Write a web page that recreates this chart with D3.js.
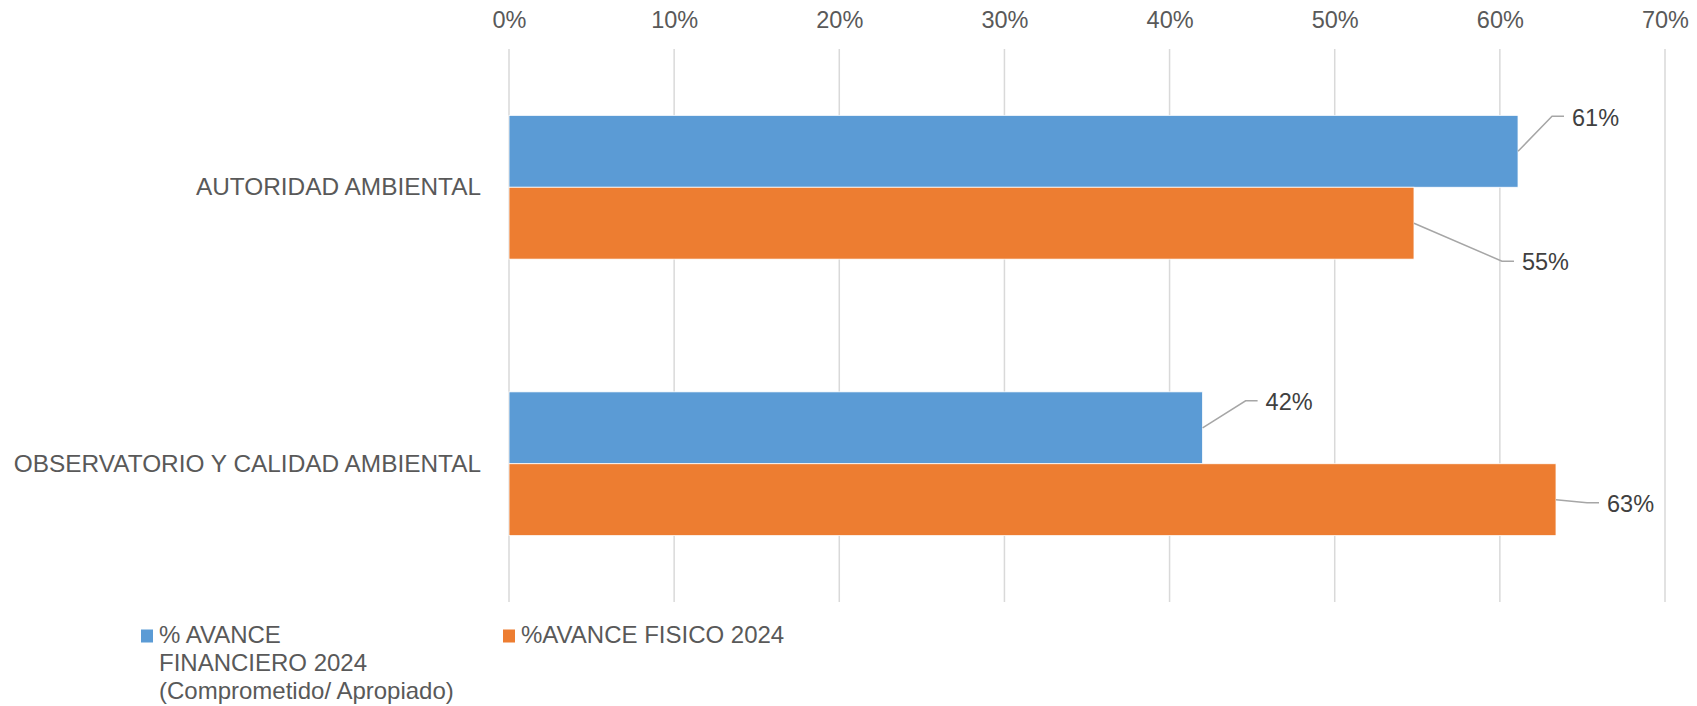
<!DOCTYPE html>
<html>
<head>
<meta charset="utf-8">
<script src="https://cdn.jsdelivr.net/npm/d3@7"></script>
<style>
  body { margin: 0; background: #fff; }
  text { font-family: "Liberation Sans", Arial, sans-serif; }
</style>
</head>
<body>
<script>
// chart data
var categories = ["AUTORIDAD AMBIENTAL", "OBSERVATORIO Y CALIDAD AMBIENTAL"];
var seriesNames = ["% AVANCE FINANCIERO 2024 (Comprometido/ Apropiado)", "%AVANCE FISICO 2024"];
var financiero = [61.1, 42.0];
var fisico = [54.8, 63.4];
var valueLabels = [["61%", "42%"], ["55%", "63%"]];
var xTicks = [0, 10, 20, 30, 40, 50, 60, 70];

// leader line offsets from the bar end, per series / category
var labelOffsets = [
  [{dx: 34, dy: -35}, {dx: 43, dy: -27}],
  [{dx: 88, dy: 38}, {dx: 31, dy: 3}]
];

var svgWidth = 1697;
var svgHeight = 706;
var margin = { top: 49, right: 32, bottom: 104, left: 509 };
var width = svgWidth - margin.left - margin.right;
var height = svgHeight - margin.top - margin.bottom;

var colors = ["#5B9BD5", "#ED7D31"];
var values = [financiero, fisico];

var svg = d3.select("body").append("svg")
  .attr("width", svgWidth)
  .attr("height", svgHeight);

var chartGroup = svg.append("g")
  .attr("transform", `translate(${margin.left}, ${margin.top})`);

var xScale = d3.scaleLinear().domain([0, 70]).range([0, width]);
var yScale = d3.scaleBand().domain(categories).range([0, height])
  .paddingInner(0.48).paddingOuter(0.24);
var ySub = d3.scaleBand().domain([0, 1]).range([0, yScale.bandwidth()]);

// gridlines
chartGroup.append("g")
  .selectAll("line")
  .data(xTicks)
  .enter().append("line")
  .attr("x1", d => xScale(d)).attr("x2", d => xScale(d))
  .attr("y1", 0).attr("y2", height)
  .attr("stroke", "#d9d9d9")
  .attr("stroke-width", 1.5);

// top axis labels
var topAxis = d3.axisTop(xScale).tickValues(xTicks)
  .tickFormat(d => d + "%").tickSize(0).tickPadding(21);
var gx = chartGroup.append("g").call(topAxis);
gx.select(".domain").remove();
gx.selectAll("text")
  .attr("fill", "#595959")
  .style("font-size", "23.5px")
  .style("font-family", "'Liberation Sans', Arial, sans-serif");

// category labels
var leftAxis = d3.axisLeft(yScale).tickSize(0).tickPadding(28);
var gy = chartGroup.append("g").call(leftAxis);
gy.select(".domain").remove();
gy.selectAll("text")
  .attr("fill", "#595959")
  .style("font-size", "24.4px")
  .style("font-family", "'Liberation Sans', Arial, sans-serif");

// bars
values.forEach(function(vals, s) {
  chartGroup.append("g")
    .selectAll("rect")
    .data(vals)
    .enter().append("rect")
    .attr("x", xScale(0))
    .attr("y", (d, i) => yScale(categories[i]) + ySub(s))
    .attr("width", d => xScale(d) - xScale(0))
    .attr("height", ySub.bandwidth())
    .attr("fill", colors[s])
    .attr("stroke", "#fff")
    .attr("stroke-width", 0.8);
});

// data labels with leader lines
values.forEach(function(vals, s) {
  vals.forEach(function(v, i) {
    var x0 = xScale(v);
    var y0 = yScale(categories[i]) + ySub(s) + ySub.bandwidth() / 2;
    var off = labelOffsets[s][i];
    var ex = x0 + off.dx, ey = y0 + off.dy;
    chartGroup.append("polyline")
      .attr("points", [[x0, y0], [ex, ey], [ex + 12, ey]].map(p => p.join(",")).join(" "))
      .attr("fill", "none")
      .attr("stroke", "#a6a6a6")
      .attr("stroke-width", 1.5);
    chartGroup.append("text")
      .attr("x", ex + 20)
      .attr("y", ey + 1)
      .attr("dy", "0.35em")
      .attr("fill", "#404040")
      .style("font-size", "23.5px")
      .text(valueLabels[s][i]);
  });
});

// legend
var legendItems = [
  { x: 141, lines: ["% AVANCE", "FINANCIERO 2024", "(Comprometido/ Apropiado)"] },
  { x: 503, lines: ["%AVANCE FISICO 2024"] }
];
var legend = svg.append("g").attr("transform", "translate(0, 635)");
legendItems.forEach(function(item, s) {
  legend.append("rect")
    .attr("x", item.x).attr("y", -5.5)
    .attr("width", 12).attr("height", 13)
    .attr("fill", colors[s]);
  var t = legend.append("text")
    .attr("x", item.x + 18)
    .attr("y", 0)
    .attr("fill", "#595959")
    .style("font-size", "24px");
  t.selectAll("tspan")
    .data(item.lines)
    .enter().append("tspan")
    .attr("x", item.x + 18)
    .attr("dy", (d, i) => i === 0 ? "0.35em" : "28px")
    .text(d => d);
});
</script>
</body>
</html>
